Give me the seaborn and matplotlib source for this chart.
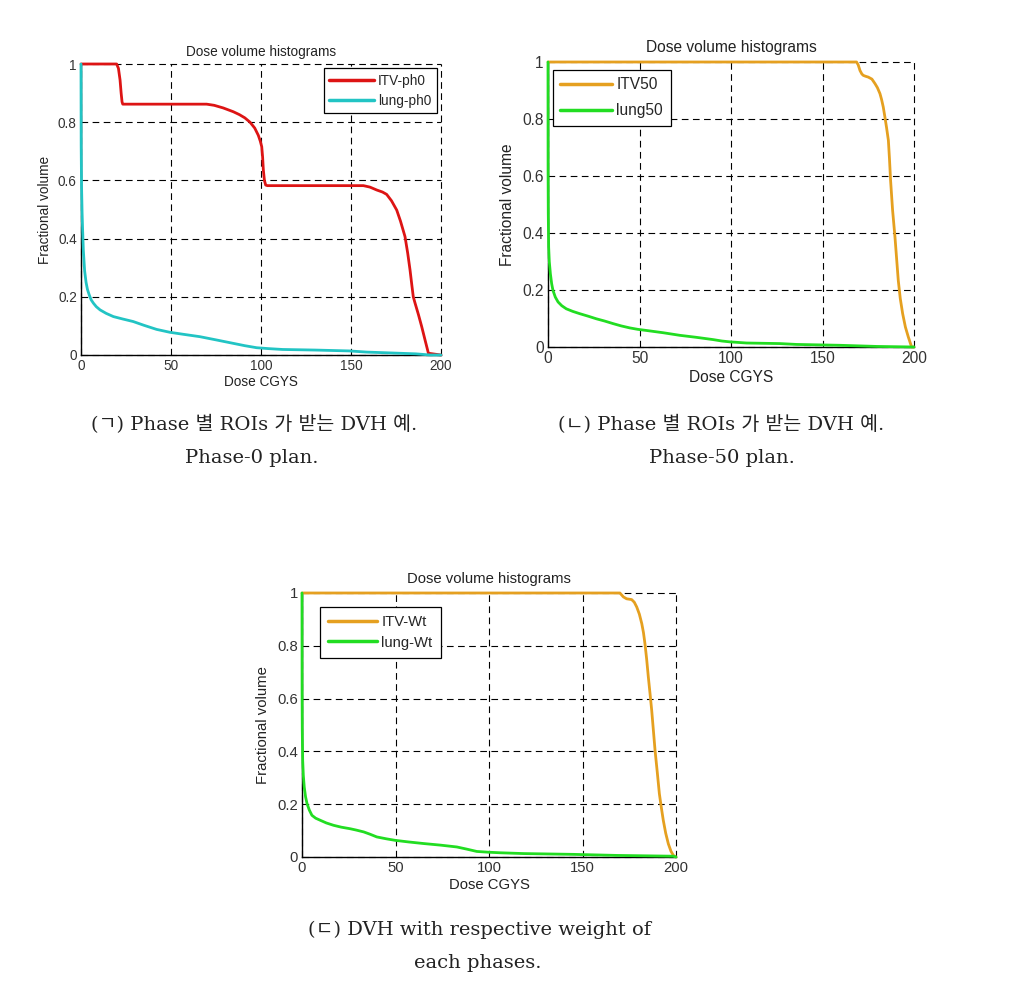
import numpy as np
import pandas as pd
import matplotlib
matplotlib.use("Agg")
import matplotlib.pyplot as plt
import seaborn as sns

sns.set_style("white")
plt.rcParams['font.family'] = ['Liberation Sans', 'DejaVu Sans']

# ---------------- data ----------------
# Panel 1 (Phase-0 plan)
itv_ph0_dose = [0, 19.8, 20.8, 21.7, 22.3, 22.8, 23.2, 40, 69.8, 74, 79, 84.6, 88, 91, 93.9, 96.5, 98.5,
                99.6, 100.4, 100.9, 101.3, 101.9, 102.6, 103.5, 130, 156.9, 160.5, 164.3, 167.5, 169.8,
                172.5, 175.4, 177.5, 180, 181.5, 182.8, 183.8, 184.6, 185.6, 187.5, 189.3, 191.2, 193, 200]
itv_ph0_vol = [1, 1, 0.985, 0.945, 0.90, 0.87, 0.862, 0.862, 0.862, 0.858, 0.849, 0.836, 0.826, 0.815,
               0.80, 0.78, 0.755, 0.735, 0.716, 0.68, 0.636, 0.60, 0.584, 0.582, 0.582, 0.582, 0.577,
               0.567, 0.56, 0.552, 0.53, 0.498, 0.46, 0.407, 0.35, 0.292, 0.24, 0.20, 0.178, 0.138,
               0.097, 0.05, 0.006, 0.0]
lung_ph0_dose = [0, 0.1, 0.3, 0.6, 0.9, 1.3, 2.0, 2.8, 3.6, 4.6, 5.6, 6.9, 8.5, 10.6, 14, 18, 23, 29, 35,
                 42, 49.4, 57, 66, 75, 84.6, 91, 97.6, 104, 112, 130, 149, 158.7, 168, 177, 186, 194, 200]
lung_ph0_vol = [1, 0.72, 0.58, 0.49, 0.43, 0.36, 0.29, 0.25, 0.225, 0.206, 0.19, 0.178, 0.166, 0.155,
                0.143, 0.132, 0.124, 0.115, 0.102, 0.088, 0.078, 0.071, 0.063, 0.052, 0.04, 0.032,
                0.025, 0.022, 0.019, 0.017, 0.014, 0.01, 0.008, 0.006, 0.004, 0.0, 0.0]

# Panel 2 (Phase-50 plan)
itv50_dose = [0, 100, 168.6, 169.5, 170.5, 171.5, 172.3, 173.5, 175, 177, 178.7, 180, 181.4, 182.3, 183.2,
              184.1, 185, 186, 186.6, 187.2, 188.3, 189.6, 190.5, 191.4, 192.5, 193.8, 195.3, 196.9,
              198.7, 200]
itv50_vol = [1, 1, 1, 0.99, 0.97, 0.958, 0.953, 0.95, 0.947, 0.94, 0.924, 0.91, 0.889, 0.868, 0.842,
             0.807, 0.77, 0.725, 0.66, 0.585, 0.48, 0.386, 0.31, 0.234, 0.17, 0.117, 0.07, 0.035,
             0.0, 0.0]
lung50_dose = [0, 0.05, 0.15, 0.36, 0.7, 1.3, 2.0, 2.7, 4.0, 5.5, 7.5, 10, 13.5, 17.3, 22, 26.4, 31,
               35.6, 40, 44.7, 49, 53.8, 63, 72, 81, 90.2, 95, 99.4, 104, 108.5, 126.7, 135.8, 159.5,
               179.6, 200]
lung50_vol = [1, 0.62, 0.47, 0.35, 0.30, 0.257, 0.222, 0.199, 0.175, 0.158, 0.145, 0.134, 0.125, 0.117,
              0.108, 0.099, 0.091, 0.082, 0.074, 0.067, 0.062, 0.058, 0.05, 0.041, 0.034, 0.026,
              0.021, 0.018, 0.016, 0.014, 0.012, 0.009, 0.006, 0.002, 0.0]

# Panel 3 (weighted)
itv_wt_dose = [0, 100, 170, 171, 171.9, 173.6, 176.3, 177.7, 179, 180.4, 181.7, 182.6, 183.4, 184.3,
               185.2, 186.1, 187, 187.9, 188.8, 190, 191.1, 192.1, 193.2, 194.5, 195.9, 197.3, 198.6, 200]
itv_wt_vol = [1, 1, 1, 0.992, 0.985, 0.978, 0.975, 0.965, 0.947, 0.92, 0.884, 0.85, 0.808, 0.75,
              0.682, 0.62, 0.556, 0.48, 0.404, 0.32, 0.24, 0.19, 0.139, 0.09, 0.05, 0.022, 0.006, 0.0]
lung_wt_dose = [0, 0.05, 0.15, 0.36, 0.7, 1.2, 1.9, 2.7, 3.9, 5.3, 7.3, 9.8, 13, 16.9, 21, 25.8, 29, 33,
                36.5, 40, 45, 49.9, 57, 65, 74, 82.8, 88, 93.5, 100, 106, 118.4, 145, 168.3, 198.6, 200]
lung_wt_vol = [1, 0.62, 0.48, 0.366, 0.31, 0.265, 0.228, 0.202, 0.178, 0.158, 0.147, 0.139, 0.129,
               0.12, 0.113, 0.107, 0.102, 0.095, 0.086, 0.076, 0.069, 0.063, 0.057, 0.051, 0.045,
               0.038, 0.03, 0.021, 0.018, 0.016, 0.013, 0.010, 0.006, 0.003, 0.0]

xticks = [0, 50, 100, 150, 200]
xtick_labels = ['0', '50', '100', '150', '200']
yticks = [0, 0.2, 0.4, 0.6, 0.8, 1]
ytick_labels = ['0', '0.2', '0.4', '0.6', '0.8', '1']

title_text = "Dose volume histograms"
xlabel_text = "Dose CGYS"
ylabel_text = "Fractional volume"

captions = [
    ("(ㄱ) Phase 별 ROIs 가 받는 DVH 예.", "Phase-0 plan."),
    ("(ㄴ) Phase 별 ROIs 가 받는 DVH 예.", "Phase-50 plan."),
    ("(ㄷ) DVH with respective weight of", "each phases."),
]

RED = "#dd1414"
CYAN = "#22c4c4"
ORANGE = "#e5a020"
GREEN = "#22dd22"

W, H = 1016, 981
fig = plt.figure(figsize=(W / 100, H / 100), dpi=100)


def px_axes(left, top, right, bottom):
    return fig.add_axes([left / W, 1 - bottom / H, (right - left) / W, (bottom - top) / H])


def style_panel(ax, fs, loc, bbox, title_pad, xlab_pad, ylab_pad, bpad, lspace):
    ax.set_xlim(0, 200)
    ax.set_ylim(0, 1)
    ax.set_xticks(xticks)
    ax.set_xticklabels(xtick_labels)
    ax.set_yticks(yticks)
    ax.set_yticklabels(ytick_labels)
    ax.tick_params(direction='in', length=3, width=0.8, labelsize=fs, pad=3, colors='black',
                   top=False, right=False)
    for lab in ax.get_xticklabels() + ax.get_yticklabels():
        lab.set_color('#333333')
    for s in ['top', 'right']:
        ax.spines[s].set_visible(False)
    for s in ['left', 'bottom']:
        ax.spines[s].set_color('black')
        ax.spines[s].set_linewidth(1.0)
    ax.grid(True, color='black', linestyle=(0, (6, 4)), linewidth=0.8)
    ax.set_axisbelow(True)
    ax.set_title(title_text, fontsize=fs, pad=title_pad, color='#222222')
    ax.set_xlabel(xlabel_text, fontsize=fs, labelpad=xlab_pad, color='#222222')
    ax.set_ylabel(ylabel_text, fontsize=fs, labelpad=ylab_pad, color='#222222')
    for ln in ax.lines:
        ln.set_clip_on(False)
        ln.set_zorder(3)
    leg = ax.legend(loc=loc, bbox_to_anchor=bbox, fontsize=fs, frameon=True, fancybox=False,
                    edgecolor='black', framealpha=1, handlelength=3.3, borderpad=bpad,
                    labelspacing=lspace, handletextpad=0.3, borderaxespad=0.3)
    leg.get_frame().set_linewidth(0.9)
    leg.set_zorder(4)
    for h in leg.get_lines():
        h.set_linewidth(2.5)


def draw(ax, xs, ys, color, label):
    df = pd.DataFrame({"dose": xs, "vol": ys})
    sns.lineplot(data=df, x="dose", y="vol", ax=ax, color=color, linewidth=2.0,
                 sort=False, estimator=None, label=label)


# Panel 1
ax1 = px_axes(81, 64, 441, 355)
draw(ax1, itv_ph0_dose, itv_ph0_vol, RED, "ITV-ph0")
draw(ax1, lung_ph0_dose, lung_ph0_vol, CYAN, "lung-ph0")
style_panel(ax1, 9.8, 'upper right', (1.0, 1.0), 6, 1, 4, 0.4, 0.45)

# Panel 2
ax2 = px_axes(548, 62, 914, 347)
draw(ax2, itv50_dose, itv50_vol, ORANGE, "ITV50")
draw(ax2, lung50_dose, lung50_vol, GREEN, "lung50")
style_panel(ax2, 11.2, 'upper left', (0.0, 0.99), 7, 3, 5, 0.5, 0.7)

# Panel 3
ax3 = px_axes(302, 593, 676, 857)
draw(ax3, itv_wt_dose, itv_wt_vol, ORANGE, "ITV-Wt")
draw(ax3, lung_wt_dose, lung_wt_vol, GREEN, "lung-Wt")
style_panel(ax3, 10.7, 'upper left', (0.035, 0.965), 7, 2, 5, 0.55, 0.45)

fig.canvas.draw()
for ax in (ax1, ax2, ax3):
    for gl in ax.get_xgridlines() + ax.get_ygridlines():
        gl.set_clip_on(False)

cap_family = ['DejaVu Serif', 'Noto Sans CJK KR', 'DejaVu Sans']
cap_fs = 14
cap_pos = [((254, 425), (252, 458)), ((721, 425), (722, 458)), ((480, 930), (478, 963))]
for (l1, l2), ((x1, y1), (x2, y2)) in zip(captions, cap_pos):
    fig.text(x1 / W, 1 - y1 / H, l1, ha='center', va='center', fontsize=cap_fs, family=cap_family,
             color='#222222')
    fig.text(x2 / W, 1 - y2 / H, l2, ha='center', va='center', fontsize=cap_fs, family=cap_family,
             color='#222222')

fig.savefig("out.png", dpi=100, facecolor='white')
